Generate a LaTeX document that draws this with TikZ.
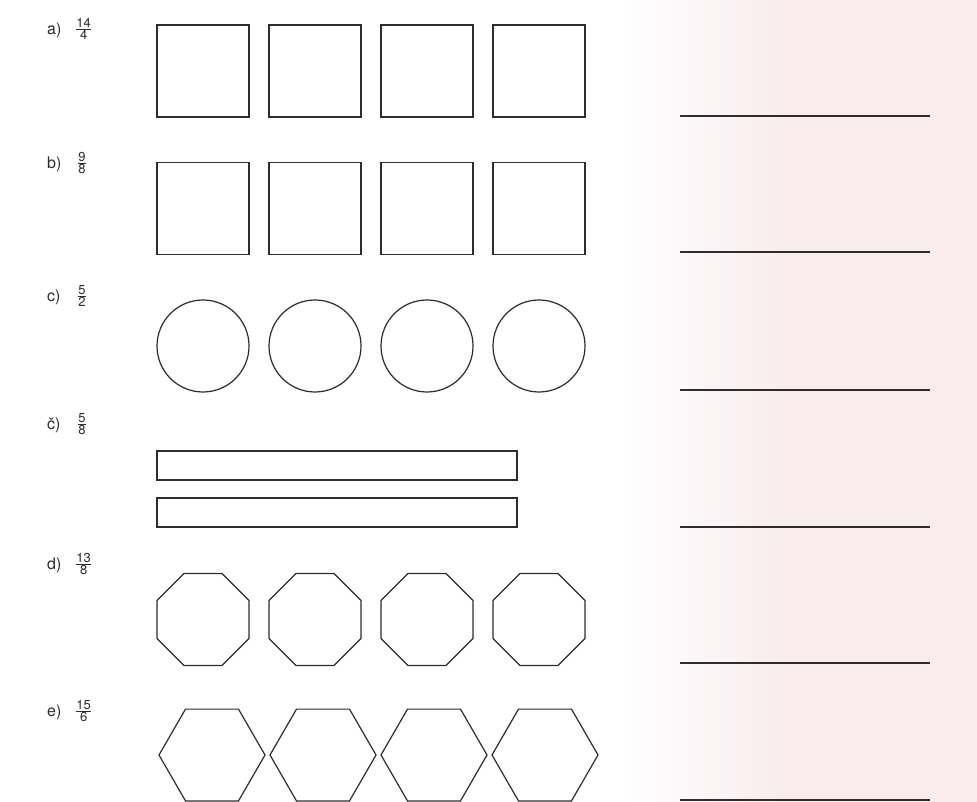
\documentclass[tikz,border=0pt]{standalone}
\usepackage{fontspec}
\setmainfont{TeX Gyre Heros}
\usetikzlibrary{shapes.geometric}
\definecolor{wash}{RGB}{248,236,238}
\definecolor{ink}{RGB}{45,45,45}
\tikzset{
  shp/.style={draw=ink, line width=1.2pt, fill=white},
  sq/.style={shp, minimum size=92pt, inner sep=0pt, outer sep=0pt},
  circ/.style={shp, circle, minimum size=92pt, inner sep=0pt},
  bar/.style={shp, minimum width=360pt, minimum height=29pt, inner sep=0pt},
  octo/.style={shp, regular polygon, regular polygon sides=8, minimum size=99.6pt, inner sep=0pt},
  hexa/.style={shp, regular polygon, regular polygon sides=6, minimum size=106pt, inner sep=0pt},
  lbl/.style={anchor=west, inner sep=0pt, font=\fontsize{16}{18}\selectfont, text=ink},
  frc/.style={anchor=west, inner sep=0pt, text=ink},
  ansline/.style={draw=ink, line width=1.4pt}
}
\newcommand\fr[2]{$\frac{\mbox{\fontsize{13}{13}\selectfont #1}}{\mbox{\fontsize{13}{13}\selectfont #2}}$}
\begin{document}
\begin{tikzpicture}[x=1pt,y=-1pt]
\useasboundingbox (0,0) rectangle (977,802);
\fill[white] (0,0) rectangle (977,802);
\shade[left color=white, right color=wash] (620,0) rectangle (780,802);
\fill[wash] (780,0) rectangle (977,802);
% labels
\node[lbl] (la) at (47,30) {a)};
\node[frc] (fa) at (75,29) {\fr{14}{4}};
\node[lbl] (lb) at (47,164) {b)};
\node[frc] (fb) at (77,163) {\fr{9}{8}};
\node[lbl] (lc) at (47,297) {c)};
\node[frc] (fc) at (77,296) {\fr{5}{2}};
\node[lbl] (lcc) at (47,425) {č)};
\node[frc] (fcc) at (77,424) {\fr{5}{8}};
\node[lbl] (ld) at (47,565) {d)};
\node[frc] (fd) at (75,564) {\fr{13}{8}};
\node[lbl] (le) at (47,712) {e)};
\node[frc] (fe) at (75,711) {\fr{15}{6}};
% shapes
\foreach \i/\x in {1/203,2/315,3/427,4/539} {
  \node[sq] (a\i) at (\x,71) {};
  \node[sq] (b\i) at (\x,208.5) {};
  \node[circ] (c\i) at (\x,346) {};
  \node[octo] (d\i) at (\x,619.5) {};
}
\foreach \i/\x in {1/212,2/323,3/434,4/545} {
  \node[hexa] (e\i) at (\x,755) {};
}
\node[bar] (cc1) at (337,465.5) {};
\node[bar] (cc2) at (337,512.5) {};
% answer lines
\foreach \n/\y in {1/116,2/252,3/390,4/527,5/663,6/800} {
  \coordinate (s\n) at (680,\y);
  \coordinate (t\n) at (930,\y);
  \draw[ansline] (s\n) -- (t\n);
}
\end{tikzpicture}
\end{document}
